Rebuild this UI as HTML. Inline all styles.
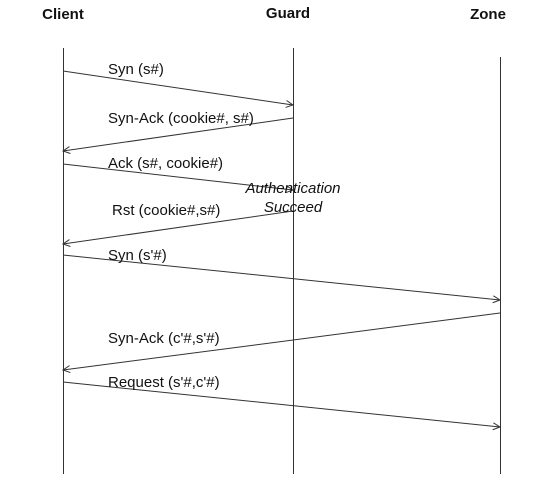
<!DOCTYPE html>
<html><head><meta charset="utf-8"><style>
html,body{margin:0;padding:0;background:#fff;}
svg{display:block;}
text{font-family:"Liberation Sans",Arial,sans-serif;fill:#111;}
</style></head><body>
<svg id="d" width="560" height="492" viewBox="0 0 560 492">
<g>
<text x="63" y="19" font-size="15" font-weight="bold" text-anchor="middle">Client</text>
<text x="288" y="18" font-size="15" font-weight="bold" text-anchor="middle">Guard</text>
<text x="488" y="19" font-size="15" font-weight="bold" text-anchor="middle">Zone</text>
</g>
<g stroke="#333" stroke-width="1">
<line x1="63.5" y1="48" x2="63.5" y2="474"/>
<line x1="293.5" y1="48" x2="293.5" y2="474"/>
<line x1="500.5" y1="57" x2="500.5" y2="474"/>
</g>
<g id="msgs"></g>
<g>
<text x="293" y="193" font-size="15" font-style="italic" text-anchor="middle">Authentication</text>
<text x="293" y="212" font-size="15" font-style="italic" text-anchor="middle">Succeed</text>
</g>
</svg>
<script>
const labels=["Syn (s#)","Syn-Ack (cookie#, s#)","Ack (s#, cookie#)","Rst (cookie#,s#)","Syn (s'#)","Syn-Ack (c'#,s'#)","Request (s'#,c'#)"];
const fromX=[63,293,63,293,63,500,63];
const toX=[293,63,293,63,500,63,500];
const y1s=[71,118,164,211,255,313,382];
const y2s=[105,151,190,244,300,370,427];
const labelY=[74,123,168,215,260,343,387];
const labelX=[108,108,108,112,108,108,108];
const g=document.getElementById('msgs');
const NS='http://www.w3.org/2000/svg';
for(let i=0;i<labels.length;i++){
  const l=document.createElementNS(NS,'line');
  l.setAttribute('x1',fromX[i]);l.setAttribute('y1',y1s[i]);
  l.setAttribute('x2',toX[i]);l.setAttribute('y2',y2s[i]);
  l.setAttribute('stroke','#333');l.setAttribute('stroke-width','1');
  
  
  g.appendChild(l);
  const dx=toX[i]-fromX[i],dy=y2s[i]-y1s[i],len=Math.hypot(dx,dy);
  const ux=dx/len,uy=dy/len,px=-uy,py=ux,s=7,w=3.5;
  const h=document.createElementNS(NS,'polyline');
  h.setAttribute('points',`${toX[i]-ux*s+px*w},${y2s[i]-uy*s+py*w} ${toX[i]},${y2s[i]} ${toX[i]-ux*s-px*w},${y2s[i]-uy*s-py*w}`);
  h.setAttribute('fill','none');h.setAttribute('stroke','#333');
  
  
  g.appendChild(h);
  const t=document.createElementNS(NS,'text');
  t.setAttribute('x',labelX[i]);t.setAttribute('y',labelY[i]);
  t.setAttribute('font-size','15');
  t.textContent=labels[i];
  
  
  g.appendChild(t);
}
</script>
</body></html>
